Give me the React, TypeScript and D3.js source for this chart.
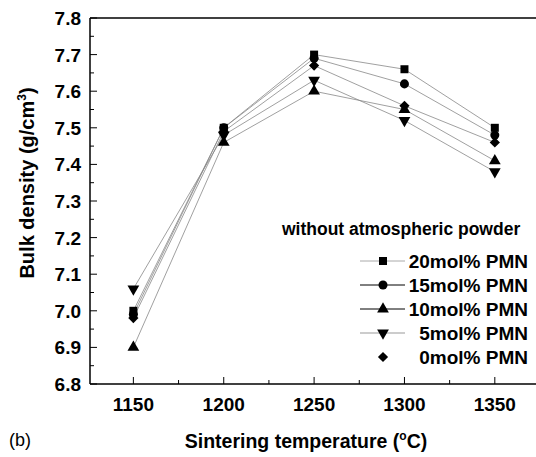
import * as d3 from 'd3';

const temps = [1150, 1200, 1250, 1300, 1350];
const pmn20 = [7.0, 7.5, 7.7, 7.66, 7.5];
const pmn15 = [6.99, 7.5, 7.69, 7.62, 7.48];
const pmn10 = [6.9, 7.46, 7.6, 7.55, 7.41];
const pmn5 = [7.06, 7.48, 7.63, 7.52, 7.38];
const pmn0 = [6.98, 7.49, 7.67, 7.56, 7.46];
const seriesNames = ['20mol% PMN', '15mol% PMN', '10mol% PMN', '5mol% PMN', '0mol% PMN'];
const yTicks = [6.8, 6.9, 7.0, 7.1, 7.2, 7.3, 7.4, 7.5, 7.6, 7.7, 7.8];
const xTicks = [1150, 1200, 1250, 1300, 1350];

const width = 536;
const height = 457;
const left = 90;
const top = 18;
const bottom = 384;
const font = '"Liberation Sans", Arial, sans-serif';

const series = [
  { name: seriesNames[0], values: pmn20, symbol: d3.symbolSquare, size: 64, rot: 0, legendLine: '#aaa' },
  { name: seriesNames[1], values: pmn15, symbol: d3.symbolCircle, size: 64, rot: 0, legendLine: '#000' },
  { name: seriesNames[2], values: pmn10, symbol: d3.symbolTriangle, size: 60, rot: 0, legendLine: '#000' },
  { name: seriesNames[3], values: pmn5, symbol: d3.symbolTriangle, size: 60, rot: 180, legendLine: '#999' },
  { name: seriesNames[4], values: pmn0, symbol: d3.symbolSquare, size: 52, rot: 45, legendLine: 'none' },
];

const App = () => {
  const x = d3.scaleLinear().domain([1126, 1375]).range([left, 540]);
  const y = d3.scaleLinear().domain([6.8, 7.8]).range([bottom, top]);
  const line = d3
    .line<number>()
    .x((_, i) => x(temps[i]))
    .y((d) => y(d));

  // minor ticks halfway between majors
  const xMinor = d3.range(1175, 1375, 50);
  const yMinor = d3.range(6.85, 7.8, 0.1);

  return (
    <svg
      width={width}
      height={height}
      style={{ position: 'absolute', left: 0, top: 0, background: '#fff' }}
      fontFamily={font}
    >
      {/* frame */}
      <line x1={left} x2={width} y1={top} y2={top} stroke="#000" strokeWidth={1.5} />
      <line x1={left} x2={width} y1={bottom} y2={bottom} stroke="#000" strokeWidth={1.5} />
      <line x1={left} x2={left} y1={top} y2={bottom} stroke="#000" strokeWidth={1.5} />

      {/* x ticks */}
      {xTicks.map((t) => (
        <g key={'xt' + t}>
          <line x1={x(t)} x2={x(t)} y1={bottom} y2={bottom - 7} stroke="#000" strokeWidth={1} />
          <text x={x(t)} y={411} textAnchor="middle" fontSize={19} fontWeight="bold">
            {t}
          </text>
        </g>
      ))}
      {xMinor.map((t) => (
        <line key={'xm' + t} x1={x(t)} x2={x(t)} y1={bottom} y2={bottom - 4} stroke="#000" strokeWidth={1} />
      ))}

      {/* y ticks */}
      {yTicks.map((t) => (
        <g key={'yt' + t}>
          <line x1={left} x2={left + 7} y1={y(t)} y2={y(t)} stroke="#000" strokeWidth={1} />
          <text x={81} y={y(t) + 7} textAnchor="end" fontSize={19} fontWeight="bold">
            {t.toFixed(1)}
          </text>
        </g>
      ))}
      {yMinor.map((t) => (
        <line key={'ym' + t} x1={left} x2={left + 4} y1={y(t)} y2={y(t)} stroke="#000" strokeWidth={1} />
      ))}

      {/* lines */}
      {series.map((s) => (
        <path key={'l' + s.name} d={line(s.values) || ''} fill="none" stroke="#888" strokeWidth={0.8} />
      ))}
      {/* markers */}
      {series.map((s) =>
        s.values.map((v, i) => (
          <path
            key={'m' + s.name + i}
            d={d3.symbol(s.symbol, s.size)() || ''}
            transform={`translate(${x(temps[i])},${y(v)}) rotate(${s.rot})`}
            fill="#000"
          />
        ))
      )}

      {/* legend */}
      <text x={282} y={235} fontSize={17.5} fontWeight="bold">
        without atmospheric powder
      </text>
      {series.map((s, i) => {
        const cy = 261 + i * 24;
        return (
          <g key={'lg' + s.name}>
            {s.legendLine !== 'none' && (
              <line x1={360} x2={405} y1={cy} y2={cy} stroke={s.legendLine} strokeWidth={1} />
            )}
            <path
              d={d3.symbol(s.symbol, s.size)() || ''}
              transform={`translate(383,${cy}) rotate(${s.rot})`}
              fill="#000"
            />
            <text x={528} y={cy + 7} textAnchor="end" fontSize={19} fontWeight="bold">
              {s.name}
            </text>
          </g>
        );
      })}

      {/* axis titles */}
      <text x={306} y={448} textAnchor="middle" fontSize={19.5} fontWeight="bold">
        Sintering temperature (<tspan dy={-8} fontSize={12}>o</tspan>
        <tspan dy={8}>C)</tspan>
      </text>
      <text x={9} y={446} fontSize={18}>
        (b)
      </text>
      <text
        transform={`translate(34,${(top + bottom) / 2 - 18}) rotate(-90)`}
        textAnchor="middle"
        fontSize={20}
        fontWeight="bold"
      >
        Bulk density (g/cm<tspan dy={-8} fontSize={12}>3</tspan>
        <tspan dy={8}>)</tspan>
      </text>
    </svg>
  );
};

export default App;
